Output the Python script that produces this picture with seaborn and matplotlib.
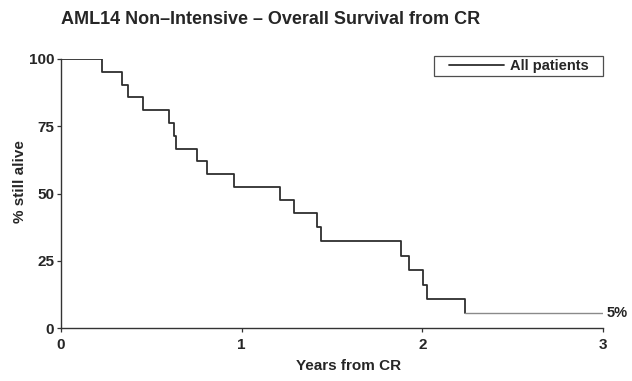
import matplotlib
matplotlib.use("Agg")
import matplotlib.pyplot as plt
from matplotlib.legend_handler import HandlerLine2D
import numpy as np
import pandas as pd
import seaborn as sns

# Kaplan-Meier steps: event times (years) and survival (%) after each step
times = [0.0, 0.225, 0.338, 0.369, 0.452, 0.598, 0.626, 0.637, 0.752, 0.809,
         0.958, 1.210, 1.290, 1.416, 1.440, 1.884, 1.928, 2.006, 2.028, 2.234]
survival = [100.0, 95.2, 90.5, 85.7, 81.0, 76.2, 71.4, 66.7, 61.9, 57.1,
            52.4, 47.6, 42.9, 37.5, 32.2, 26.8, 21.5, 16.1, 10.7, 5.4]
follow_up_end = 3.0
series_label = "All patients"
end_label = "5%"

x_ticks = [0, 1, 2, 3]
y_ticks = [0, 25, 50, 75, 100]


class InsetLine(HandlerLine2D):
    """Legend line that starts a little way into the handle box."""

    def get_xdata(self, legend, xdescent, ydescent, width, height, fontsize):
        x = np.array([-xdescent + 0.18 * width, -xdescent + width])
        return x, x


sns.set_theme(style="white")
plt.rcParams["font.family"] = ["Liberation Sans", "DejaVu Sans"]
plt.rcParams["font.weight"] = "bold"

fig = plt.figure(figsize=(6.32, 3.81), dpi=100)
ax = fig.add_axes([61 / 632, 1 - 328 / 381, (603 - 61) / 632, (328 - 59) / 381])

curve = pd.DataFrame({"years": times, "pct": survival})
sns.lineplot(data=curve, x="years", y="pct", drawstyle="steps-post",
             estimator=None, color="#2e2e2e", linewidth=1.3, ax=ax,
             label=series_label)

# flat tail after the last event, drawn lighter
tail = pd.DataFrame({"years": [times[-1], follow_up_end],
                     "pct": [survival[-1], survival[-1]]})
sns.lineplot(data=tail, x="years", y="pct", estimator=None,
             color="#8a8a8a", linewidth=1.0, ax=ax)

ax.text(follow_up_end + 0.02, survival[-1], end_label, ha="left", va="center",
        fontsize=10.5, fontweight="bold", color="#222222", clip_on=False)

ax.set_xlim(0, 3)
ax.set_ylim(0, 100)
ax.set_xticks(x_ticks)
ax.set_yticks(y_ticks)
ax.set_xticklabels([str(v) for v in x_ticks], fontsize=11, fontweight="bold")
ax.set_yticklabels([str(v) for v in y_ticks], fontsize=11, fontweight="bold")
ax.tick_params(axis="both", direction="out", length=3, width=0.9,
               color="#333333", pad=2, bottom=True, left=True)
ax.xaxis.set_tick_params(pad=4)

sns.despine(ax=ax)
for side in ("left", "bottom"):
    ax.spines[side].set_color("#333333")
    ax.spines[side].set_linewidth(1.0)

ax.set_xlabel("Years from CR", fontsize=11, fontweight="bold")
ax.set_ylabel("% still alive", fontsize=11, fontweight="bold")
ax.xaxis.set_label_coords(0.53, -0.115)
ax.yaxis.set_label_coords(-0.063, 0.543)
ax.set_title("AML14 Non\u2013Intensive \u2013 Overall Survival from CR",
             loc="left", fontsize=13, fontweight="bold", pad=25)

leg = ax.legend(loc="upper right", bbox_to_anchor=(0.688, 0.941, 0.312, 0.07),
                mode="expand", frameon=True, fancybox=False, fontsize=10.5,
                handlelength=4.6, borderpad=0.22, handletextpad=0.4,
                borderaxespad=0, handler_map={plt.Line2D: InsetLine()})
leg.get_frame().set_edgecolor("#222222")
leg.get_frame().set_linewidth(0.9)
for t in leg.get_texts():
    t.set_fontweight("bold")

fig.savefig("out.png", dpi=100)
